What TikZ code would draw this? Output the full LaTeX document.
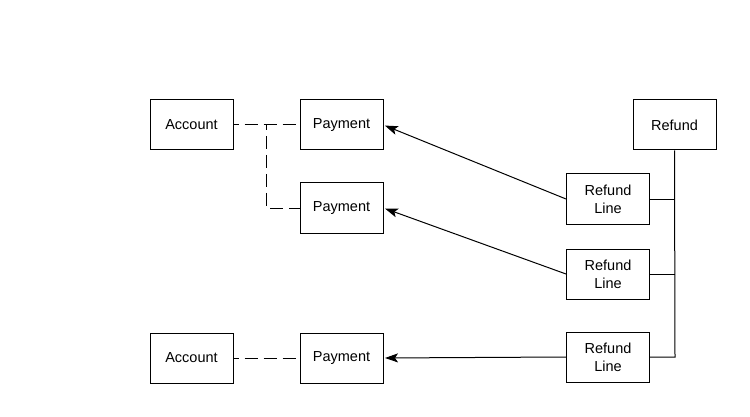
\documentclass[tikz,border=0pt]{standalone}
\usepackage{fontspec}
\setmainfont{Liberation Sans}
\usetikzlibrary{arrows.meta}
\begin{document}
\begin{tikzpicture}[x=1pt,y=-1pt,
  ent/.style={draw,line width=1pt,minimum width=83pt,minimum height=50pt,inner sep=0pt,align=center,font=\fontsize{14.5}{18}\selectfont},
  dashline/.style={line width=1pt,dash pattern=on 13pt off 6pt,dash phase=8pt},
  conn/.style={line width=1pt},
  arr/.style={line width=1pt,shorten >=1.5pt,-{Stealth[length=13pt,width=9pt,inset=3pt]}}]
\useasboundingbox (0,0) rectangle (750,417);
\node[ent] (acc1) at (191.5,125) {Account};
\node[ent] (pay1) at (341.5,125) {Payment};
\node[ent] (pay2) at (341.5,208) {Payment};
\node[ent] (ref) at (674.5,125) {Refund};
\node[ent] (rl1) at (608,199) {Refund\\Line};
\node[ent] (rl2) at (608,274) {Refund\\Line};
\node[ent] (rl3) at (608,357) {Refund\\Line};
\node[ent] (acc2) at (191.5,358) {Account};
\node[ent] (pay3) at (341.5,358) {Payment};
\coordinate (br) at (266,125);
\coordinate (brd) at (266,208);
\coordinate (t1) at (675,199);
\coordinate (t2) at (675,274);
\coordinate (t3) at (675,357);
\draw[dashline] (acc1.east) -- (pay1.west);
\draw[dashline] (br) -- (brd) -- (pay2.west);
\draw[dashline] (acc2.east) -- (pay3.west);
\draw[conn] (ref.south) -- (t3) -- (rl3.east);
\draw[conn] (rl1.east) -- (t1);
\draw[conn] (rl2.east) -- (t2);
\draw[arr] (rl1.west) -- (pay1.east);
\draw[arr] (rl2.west) -- (pay2.east);
\draw[arr] (rl3.west) -- (pay3.east);
\end{tikzpicture}
\end{document}
